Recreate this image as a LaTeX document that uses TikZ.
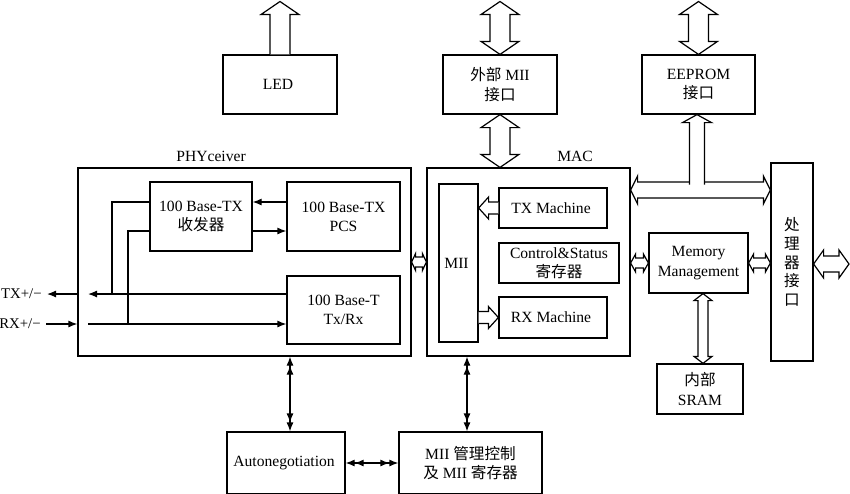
\documentclass[tikz,border=0pt]{standalone}
\usepackage{fontspec}
\setmainfont{Liberation Serif}
\newfontfamily\cjk{Noto Sans CJK SC}
\newcommand{\zh}[1]{{\cjk #1}}
\usetikzlibrary{arrows.meta,calc}

\tikzset{
    wh/.style 2 args={minimum width=#1*0.5pt, minimum height=#2*0.5pt},
    fatone/.style n args={3}{fill=white, to path={
        ($(\tikztostart)!#1!-90:(\tikztotarget)$)
        -- ($(\tikztotarget)!#3!(\tikztostart)!#1!-90:(\tikztotarget)$)
        -- ($(\tikztotarget)!#3!(\tikztostart)!#2!-90:(\tikztotarget)$)
        -- (\tikztotarget)
        -- ($(\tikztotarget)!#3!(\tikztostart)!#2!90:(\tikztotarget)$)
        -- ($(\tikztotarget)!#3!(\tikztostart)!#1!90:(\tikztotarget)$)
        -- ($(\tikztostart)!#1!90:(\tikztotarget)$)
    }},
    fatdbl/.style n args={3}{fill=white, to path={
        -- ($(\tikztostart)!#3!(\tikztotarget)!#2!90:(\tikztotarget)$)
        -- ($(\tikztostart)!#3!(\tikztotarget)!#1!90:(\tikztotarget)$)
        -- ($(\tikztotarget)!#3!(\tikztostart)!#1!90:(\tikztotarget)$)
        -- ($(\tikztotarget)!#3!(\tikztostart)!#2!90:(\tikztotarget)$)
        -- (\tikztotarget)
        -- ($(\tikztotarget)!#3!(\tikztostart)!#2!-90:(\tikztotarget)$)
        -- ($(\tikztotarget)!#3!(\tikztostart)!#1!-90:(\tikztotarget)$)
        -- ($(\tikztostart)!#3!(\tikztotarget)!#1!-90:(\tikztotarget)$)
        -- ($(\tikztostart)!#3!(\tikztotarget)!#2!-90:(\tikztotarget)$)
        -- cycle
    }}
}

\begin{document}
\begin{tikzpicture}[x=0.5pt, y=-0.5pt, line width=0.6pt,
    >={Latex[length=4.5pt,width=3.5pt]},
    every node/.style={
    rectangle,
    inner sep=1pt,
    draw,
    align=center,
    font=\fontsize{7.8pt}{9.6pt}\selectfont
}]
    \useasboundingbox (0, 0) rectangle (850, 493);

    \node (led) [wh={114}{59}, shift={(280, 84.5)}]
    {
        LED
    };
    \node (extmii) [wh={114}{59}, shift={(500, 84.5)}]
    {
        \zh{外部} MII\\\zh{接口}
    };
    \node (eeprom) [wh={113}{59}, shift={(698.5, 84.5)}]
    {
        EEPROM\\\zh{接口}
    };


    \node (phy_label) [draw=none, shift={(213, 156)}]
    {
        PHYceiver
    };
    \node (phy) [wh={333}{188}, shift={(244.5, 262)}]
    {
    };

    \node (xcvr) [wh={102}{69}, shift={(201, 216.5)}]
    {
        100 Base-TX\\\zh{收发器}
    };
    \node (pcs) [wh={113}{69}, shift={(343.5, 216.5)}]
    {
        100 Base-TX\\PCS
    };
    \node (txrx) [wh={113}{68}, shift={(343.5, 310)}]
    {
        100 Base-T\\Tx/Rx
    };

    \node (tx_label) [draw=none, inner xsep=0.5pt, anchor=east, font=\fontsize{7.4pt}{9pt}\selectfont, shift={(47, 294)}]
    {
        TX+/−
    };
    \node (rx_label) [draw=none, inner xsep=0.5pt, anchor=east, font=\fontsize{7.4pt}{9pt}\selectfont, shift={(46, 324)}]
    {
        RX+/−
    };


    \node (mac_label) [draw=none, shift={(577, 156)}]
    {
        MAC
    };
    \node (mac) [wh={203}{188}, shift={(528.5, 262)}]
    {
    };

    \node (mii) [wh={39}{158}, shift={(458.5, 263)}]
    {
        MII
    };
    \node (txm) [wh={108}{40}, shift={(553, 208)}]
    {
        TX Machine
    };
    \node (ctrl) [wh={120}{40}, shift={(559, 263)}]
    {
        Control\&Status\\\zh{寄存器}
    };
    \node (rxm) [wh={108}{41}, shift={(553, 317.5)}]
    {
        RX Machine
    };


    \node (mem) [wh={99}{60}, shift={(698.5, 263)}]
    {
        Memory\\Management
    };
    \node (cpu) [wh={42}{198}, font=\fontsize{7.8pt}{9.3pt}\selectfont\cjk, shift={(792, 262)}]
    {
        处\\理\\器\\接\\口
    };
    \node (sram) [wh={86}{50}, shift={(700, 389)}]
    {
        \zh{内部}\\SRAM
    };


    \node (auto) [wh={118}{62}, shift={(286, 463)}]
    {
        Autonegotiation
    };
    \node (mgmt) [wh={143}{62}, shift={(470.5, 463)}]
    {
        MII \zh{管理控制}\\\zh{及} MII \zh{寄存器}
    };


    \coordinate (tx_end) at (88, 294);
    \coordinate (rx_start) at (88, 324);
    \coordinate (led_top) at (280, 1.5);
    \coordinate (extmii_top) at (500, 1.5);
    \coordinate (eeprom_top) at (698.5, 1.5);
    \coordinate (extmii_bot) at (extmii.south |- mac.north);
    \coordinate (bus_l) at ($(mac.east)+(0,-72)$);
    \coordinate (bus_r) at (bus_l -| cpu.west);
    \coordinate (eeprom_join) at ($(eeprom.south)+(-1.5,70)$);
    \coordinate (eeprom_in) at ($(eeprom.south)+(-1.5,0)$);
    \coordinate (txm_out) at (txm.west -| mii.east);
    \coordinate (rxm_in) at (rxm.west -| mii.east);
    \coordinate (mac_mem) at (mac.east |- mem.west);
    \coordinate (mem_cpu) at (cpu.west |- mem.east);
    \coordinate (mem_sram) at ($(mem.south)+(4.5,0)$);
    \coordinate (sram_top) at (mem_sram |- sram.north);
    \coordinate (cpu_out) at (849, 264);
    \coordinate (cpu_r) at (cpu.east |- cpu_out);
    \coordinate (phy_auto) at ($(auto.north)+(4,0)$);
    \coordinate (mac_mgmt) at ($(mgmt.north)+(-3.5,0)$);

    \draw[->] (txrx.west |- tx_end) -- (tx_end);
    \draw[->] (rx_start) -- (txrx.west |- rx_start);
    \draw[->] (phy.west |- tx_end) -- (tx_label.east);
    \draw[->] (rx_label.east) -- (phy.west |- rx_start);
    \draw ($(xcvr.west)+(0,-14.5)$) -| ($(tx_end)+(24,0)$);
    \draw ($(xcvr.west)+(0,14.5)$) -| ($(rx_start)+(40,0)$);
    \draw[->] ($(pcs.west)+(0,-14.5)$) -- ($(xcvr.east)+(0,-14.5)$);
    \draw[->] ($(xcvr.east)+(0,14.5)$) -- ($(pcs.west)+(0,14.5)$);

    \draw[fatone={5pt}{9.5pt}{6.5pt}] (led.north) to (led_top);
    \draw[fatdbl={5pt}{9.5pt}{6.5pt}] (extmii.north) to (extmii_top);
    \draw[fatdbl={5pt}{9.5pt}{6.5pt}] (extmii.south) to (extmii_bot);
    \draw[fatdbl={5pt}{9.5pt}{6.5pt}] (eeprom.north) to (eeprom_top);
    \draw[fatdbl={4pt}{7pt}{3.5pt}] (bus_l) to (bus_r);
    \draw[fatone={3.75pt}{7.25pt}{4pt}] (eeprom_join) to (eeprom_in);
    \draw[fatdbl={2.5pt}{4.25pt}{2pt}] (phy.east) to (mac.west);
    \draw[fatdbl={2.5pt}{4.5pt}{2.5pt}] (mac_mem) to (mem.west);
    \draw[fatdbl={2.5pt}{4.5pt}{2.5pt}] (mem.east) to (mem_cpu);
    \draw[fatdbl={2.5pt}{4.5pt}{3.5pt}] (mem_sram) to (sram_top);
    \draw[fatdbl={4pt}{7pt}{5pt}] (cpu_r) to (cpu_out);
    \draw[fatone={3pt}{5.5pt}{5pt}] (txm.west) to (txm_out);
    \draw[fatone={3pt}{5.5pt}{5pt}] (rxm_in) to (rxm.west);

    \draw[<<->>] (phy_auto) -- (phy_auto |- phy.south);
    \draw[<<->>] (mac_mgmt) -- (mac_mgmt |- mac.south);
    \draw[<<->>] (auto.east) -- (mgmt.west);


\end{tikzpicture}
\end{document}
